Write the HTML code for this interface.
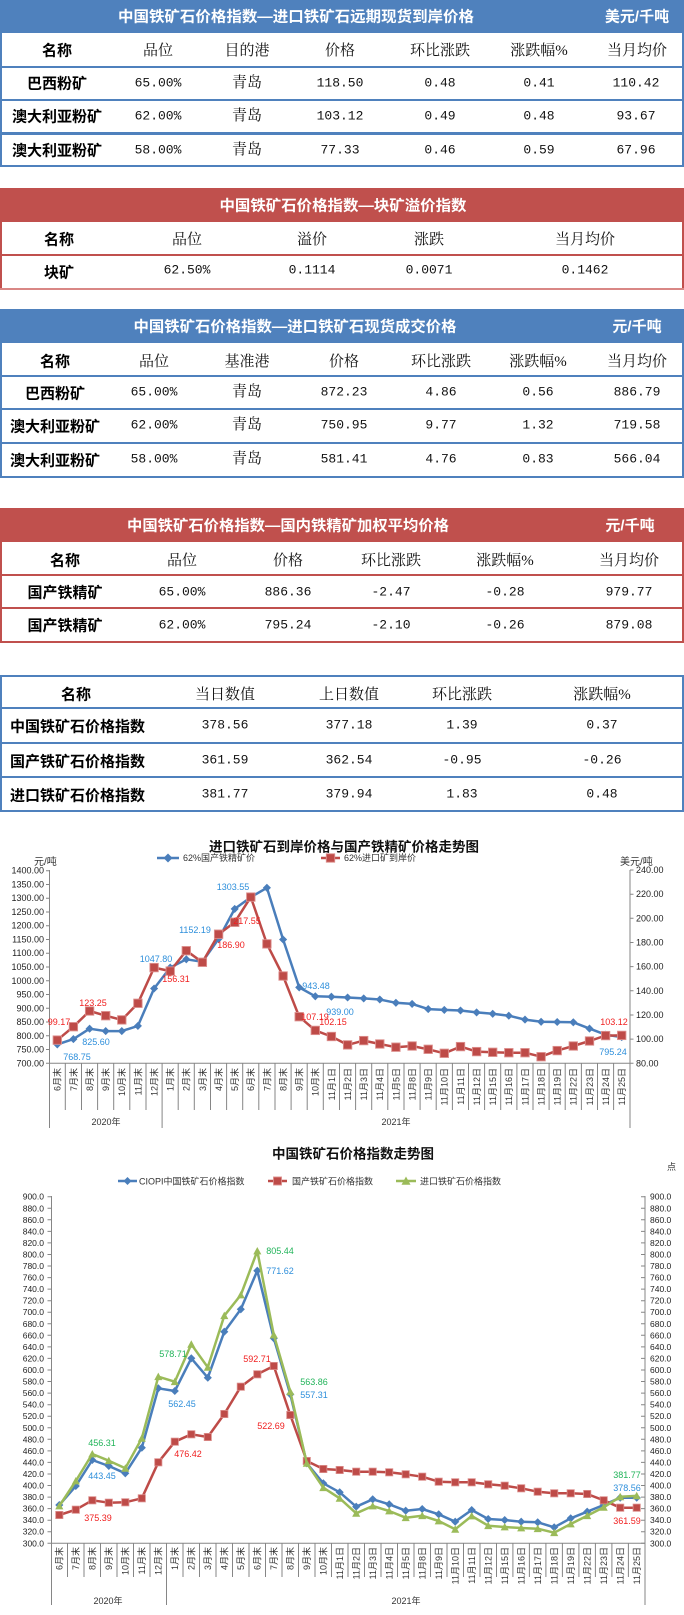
<!DOCTYPE html>
<html><head><meta charset="utf-8">
<style>
html,body{margin:0;padding:0;background:#fff;}
svg{display:block;}
.tt{fill:#fff;font-weight:700;font-size:15px;text-anchor:middle;dominant-baseline:central;font-family:"Liberation Sans","Noto Sans CJK SC",sans-serif;}
.h{font-size:15px;text-anchor:middle;dominant-baseline:central;font-family:"Liberation Serif","Noto Serif CJK SC",serif;fill:#111;}
.b{font-size:15px;font-weight:700;text-anchor:middle;dominant-baseline:central;font-family:"Liberation Sans","Noto Sans CJK SC",sans-serif;fill:#000;}
.bl{font-size:15px;font-weight:700;dominant-baseline:central;font-family:"Liberation Sans","Noto Sans CJK SC",sans-serif;fill:#000;}
.n{font-size:13px;text-anchor:middle;dominant-baseline:central;font-family:"Liberation Mono",monospace;fill:#111;}
.c{font-size:9px;font-family:"Liberation Sans","Noto Sans CJK SC",sans-serif;fill:#333;}
.ax{font-size:9px;font-family:"Liberation Sans",sans-serif;fill:#222;dominant-baseline:central;}
.ti{font-size:13.5px;font-weight:700;text-anchor:middle;dominant-baseline:central;font-family:"Liberation Sans","Noto Sans CJK SC",sans-serif;fill:#111;}
.lb{font-size:9px;text-anchor:middle;dominant-baseline:central;font-family:"Liberation Sans",sans-serif;}
.cat text{text-anchor:end;dominant-baseline:auto;}
</style></head>
<body>
<svg width="684" height="1615" viewBox="0 0 684 1615" xmlns="http://www.w3.org/2000/svg">
<defs>
<marker id="dia" viewBox="-5 -5 10 10" refX="0" refY="0" markerWidth="9" markerHeight="9" markerUnits="userSpaceOnUse"><path d="M0,-4.5L4.5,0L0,4.5L-4.5,0Z" fill="#4A7EBB"/></marker>
<marker id="sq" viewBox="-5 -5 10 10" refX="0" refY="0" markerWidth="10" markerHeight="10" markerUnits="userSpaceOnUse"><rect x="-4.2" y="-4.2" width="8.4" height="8.4" fill="#BE4B48" stroke="#DC8E8C" stroke-width="0.9"/></marker>
<marker id="sq2" viewBox="-5 -5 10 10" refX="0" refY="0" markerWidth="9" markerHeight="9" markerUnits="userSpaceOnUse"><rect x="-4" y="-4" width="8" height="8" fill="#BE4B48" stroke="#DC8E8C" stroke-width="0.9"/></marker>
<marker id="tri" viewBox="-5 -5 10 10" refX="0" refY="0" markerWidth="9" markerHeight="9" markerUnits="userSpaceOnUse"><path d="M0,-4.5L4.5,3.8L-4.5,3.8Z" fill="#9BBB59"/></marker>
</defs>

<!-- ===== TABLE 1 ===== -->
<rect x="0" y="0" width="684" height="33" fill="#4F81BD"/>
<text class="tt" x="296" y="17" textLength="356" lengthAdjust="spacingAndGlyphs">中国铁矿石价格指数—进口铁矿石远期现货到岸价格</text>
<text class="tt" x="637" y="17">美元/千吨</text>
<rect x="0" y="33" width="2" height="134" fill="#4F81BD"/>
<rect x="682" y="33" width="2" height="134" fill="#4F81BD"/>
<rect x="0" y="66" width="684" height="2" fill="#4F81BD"/>
<rect x="0" y="99" width="684" height="2" fill="#4F81BD"/>
<rect x="0" y="132" width="684" height="3" fill="#4F81BD"/>
<rect x="0" y="165" width="684" height="2" fill="#4F81BD"/>
<text class="b" x="57" y="51">名称</text>
<text class="h" x="158" y="51">品位</text>
<text class="h" x="247" y="51">目的港</text>
<text class="h" x="340" y="51">价格</text>
<text class="h" x="440" y="51">环比涨跌</text>
<text class="h" x="539" y="51">涨跌幅%</text>
<text class="h" x="637" y="51">当月均价</text>
<text class="b" x="57" y="84">巴西粉矿</text>
<text class="n" x="158" y="83">65.00%</text><text class="h" x="247" y="83">青岛</text><text class="n" x="340" y="83">118.50</text><text class="n" x="440" y="83">0.48</text><text class="n" x="539" y="83">0.41</text><text class="n" x="636" y="83">110.42</text>
<text class="b" x="57" y="117">澳大利亚粉矿</text>
<text class="n" x="158" y="116">62.00%</text><text class="h" x="247" y="116">青岛</text><text class="n" x="340" y="116">103.12</text><text class="n" x="440" y="116">0.49</text><text class="n" x="539" y="116">0.48</text><text class="n" x="636" y="116">93.67</text>
<text class="b" x="57" y="151">澳大利亚粉矿</text>
<text class="n" x="158" y="150">58.00%</text><text class="h" x="247" y="150">青岛</text><text class="n" x="340" y="150">77.33</text><text class="n" x="440" y="150">0.46</text><text class="n" x="539" y="150">0.59</text><text class="n" x="636" y="150">67.96</text>

<!-- ===== TABLE 2 ===== -->
<rect x="0" y="188" width="684" height="34" fill="#C0504D"/>
<text class="tt" x="343" y="206" textLength="247" lengthAdjust="spacingAndGlyphs">中国铁矿石价格指数—块矿溢价指数</text>
<rect x="0" y="222" width="2" height="68" fill="#C0504D"/>
<rect x="682" y="222" width="2" height="68" fill="#C0504D"/>
<rect x="0" y="254" width="684" height="2" fill="#C0504D"/>
<rect x="0" y="288" width="684" height="2" fill="#D98785"/>
<text class="b" x="59" y="240">名称</text>
<text class="h" x="187" y="240">品位</text>
<text class="h" x="312" y="240">溢价</text>
<text class="h" x="429" y="240">涨跌</text>
<text class="h" x="585" y="240">当月均价</text>
<text class="b" x="59" y="273">块矿</text>
<text class="n" x="187" y="270">62.50%</text><text class="n" x="312" y="270">0.1114</text><text class="n" x="429" y="270">0.0071</text><text class="n" x="585" y="270">0.1462</text>

<!-- ===== TABLE 3 ===== -->
<rect x="0" y="309" width="684" height="34" fill="#4F81BD"/>
<text class="tt" x="295" y="327" textLength="323" lengthAdjust="spacingAndGlyphs">中国铁矿石价格指数—进口铁矿石现货成交价格</text>
<text class="tt" x="637" y="327">元/千吨</text>
<rect x="0" y="343" width="2" height="135" fill="#4F81BD"/>
<rect x="682" y="343" width="2" height="135" fill="#4F81BD"/>
<rect x="0" y="375" width="684" height="2" fill="#4F81BD"/>
<rect x="0" y="408" width="684" height="2" fill="#4F81BD"/>
<rect x="0" y="442" width="684" height="2" fill="#4F81BD"/>
<rect x="0" y="476" width="684" height="2" fill="#4F81BD"/>
<text class="b" x="55" y="362">名称</text>
<text class="h" x="154" y="362">品位</text>
<text class="h" x="247" y="362">基准港</text>
<text class="h" x="344" y="362">价格</text>
<text class="h" x="441" y="362">环比涨跌</text>
<text class="h" x="538" y="362">涨跌幅%</text>
<text class="h" x="637" y="362">当月均价</text>
<text class="b" x="55" y="394">巴西粉矿</text>
<text class="n" x="154" y="392">65.00%</text><text class="h" x="247" y="392">青岛</text><text class="n" x="344" y="392">872.23</text><text class="n" x="441" y="392">4.86</text><text class="n" x="538" y="392">0.56</text><text class="n" x="637" y="392">886.79</text>
<text class="b" x="55" y="427">澳大利亚粉矿</text>
<text class="n" x="154" y="425">62.00%</text><text class="h" x="247" y="425">青岛</text><text class="n" x="344" y="425">750.95</text><text class="n" x="441" y="425">9.77</text><text class="n" x="538" y="425">1.32</text><text class="n" x="637" y="425">719.58</text>
<text class="b" x="55" y="461">澳大利亚粉矿</text>
<text class="n" x="154" y="459">58.00%</text><text class="h" x="247" y="459">青岛</text><text class="n" x="344" y="459">581.41</text><text class="n" x="441" y="459">4.76</text><text class="n" x="538" y="459">0.83</text><text class="n" x="637" y="459">566.04</text>

<!-- ===== TABLE 4 ===== -->
<rect x="0" y="508" width="684" height="34" fill="#C0504D"/>
<text class="tt" x="288" y="526" textLength="322" lengthAdjust="spacingAndGlyphs">中国铁矿石价格指数—国内铁精矿加权平均价格</text>
<text class="tt" x="630" y="526">元/千吨</text>
<rect x="0" y="542" width="2" height="101" fill="#C0504D"/>
<rect x="682" y="542" width="2" height="101" fill="#C0504D"/>
<rect x="0" y="574" width="684" height="2" fill="#C0504D"/>
<rect x="0" y="607" width="684" height="2" fill="#C0504D"/>
<rect x="0" y="641" width="684" height="2" fill="#C0504D"/>
<text class="b" x="65" y="561">名称</text>
<text class="h" x="182" y="561">品位</text>
<text class="h" x="288" y="561">价格</text>
<text class="h" x="391" y="561">环比涨跌</text>
<text class="h" x="505" y="561">涨跌幅%</text>
<text class="h" x="629" y="561">当月均价</text>
<text class="b" x="65" y="593">国产铁精矿</text>
<text class="n" x="182" y="592">65.00%</text><text class="n" x="288" y="592">886.36</text><text class="n" x="391" y="592">-2.47</text><text class="n" x="505" y="592">-0.28</text><text class="n" x="629" y="592">979.77</text>
<text class="b" x="65" y="626">国产铁精矿</text>
<text class="n" x="182" y="625">62.00%</text><text class="n" x="288" y="625">795.24</text><text class="n" x="391" y="625">-2.10</text><text class="n" x="505" y="625">-0.26</text><text class="n" x="629" y="625">879.08</text>

<!-- ===== TABLE 5 ===== -->
<rect x="0" y="675" width="684" height="2" fill="#4F81BD"/>
<rect x="0" y="675" width="2" height="137" fill="#4F81BD"/>
<rect x="682" y="675" width="2" height="137" fill="#4F81BD"/>
<rect x="0" y="707" width="684" height="2" fill="#4F81BD"/>
<rect x="0" y="742" width="684" height="2" fill="#4F81BD"/>
<rect x="0" y="776" width="684" height="2" fill="#4F81BD"/>
<rect x="0" y="810" width="684" height="2" fill="#4F81BD"/>
<text class="b" x="76" y="695">名称</text>
<text class="h" x="225" y="695">当日数值</text>
<text class="h" x="349" y="695">上日数值</text>
<text class="h" x="462" y="695">环比涨跌</text>
<text class="h" x="602" y="695">涨跌幅%</text>
<text class="bl" x="10" y="727">中国铁矿石价格指数</text>
<text class="n" x="225" y="725">378.56</text><text class="n" x="349" y="725">377.18</text><text class="n" x="462" y="725">1.39</text><text class="n" x="602" y="725">0.37</text>
<text class="bl" x="10" y="762">国产铁矿石价格指数</text>
<text class="n" x="225" y="760">361.59</text><text class="n" x="349" y="760">362.54</text><text class="n" x="462" y="760">-0.95</text><text class="n" x="602" y="760">-0.26</text>
<text class="bl" x="10" y="796">进口铁矿石价格指数</text>
<text class="n" x="225" y="794">381.77</text><text class="n" x="349" y="794">379.94</text><text class="n" x="462" y="794">1.83</text><text class="n" x="602" y="794">0.48</text>

<!-- ===== CHART 1 ===== -->
<text class="ti" x="344" y="847">进口铁矿石到岸价格与国产铁精矿价格走势图</text>
<line x1="157" y1="858" x2="179" y2="858" stroke="#4A7EBB" stroke-width="2.5"/>
<path d="M168,853.5L172.5,858L168,862.5L163.5,858Z" fill="#4A7EBB"/>
<text class="c" x="183" y="861">62%国产铁精矿价</text>
<line x1="321" y1="858" x2="340" y2="858" stroke="#BE4B48" stroke-width="2.5"/>
<rect x="326.3" y="853.8" width="8.4" height="8.4" fill="#BE4B48" stroke="#DC8E8C" stroke-width="0.9"/>
<text class="c" x="344" y="861">62%进口矿到岸价</text>
<text class="c" x="34" y="865" style="font-size:10px">元/吨</text>
<text class="c" x="620" y="865" style="font-size:10px">美元/吨</text>

<!-- axes -->
<g stroke="#868686" stroke-width="1" fill="none">
<line x1="49.5" y1="870" x2="49.5" y2="1128"/>
<line x1="630" y1="870" x2="630" y2="1128"/>
<line x1="49.5" y1="1063.3" x2="630" y2="1063.3"/>
<line x1="162.1" y1="1063" x2="162.1" y2="1128"/>
<path d="M46,870.7H49.5M46,884.5H49.5M46,898.2H49.5M46,912H49.5M46,925.7H49.5M46,939.5H49.5M46,953.2H49.5M46,967H49.5M46,980.8H49.5M46,994.5H49.5M46,1008.3H49.5M46,1022H49.5M46,1035.8H49.5M46,1049.5H49.5M46,1063.3H49.5"/>
<path d="M630,870H633.5M630,894.2H633.5M630,918.3H633.5M630,942.5H633.5M630,966.6H633.5M630,990.8H633.5M630,1015H633.5M630,1039.1H633.5M630,1063.3H633.5"/>
<path d="M65.3,1063V1110M81.5,1063V1110M97.6,1063V1110M113.7,1063V1110M129.8,1063V1110M146,1063V1110M178.2,1063V1110M194.3,1063V1110M210.5,1063V1110M226.6,1063V1110M242.7,1063V1110M258.8,1063V1110M275,1063V1110M291.1,1063V1110M307.2,1063V1110M323.3,1063V1110M339.5,1063V1110M355.6,1063V1110M371.7,1063V1110M387.8,1063V1110M404,1063V1110M420.1,1063V1110M436.2,1063V1110M452.4,1063V1110M468.5,1063V1110M484.6,1063V1110M500.7,1063V1110M516.9,1063V1110M533,1063V1110M549.1,1063V1110M565.2,1063V1110M581.4,1063V1110M597.5,1063V1110M613.6,1063V1110"/>
</g>
<g class="ax" text-anchor="end">
<text x="44" y="870.7">1400.00</text><text x="44" y="884.5">1350.00</text><text x="44" y="898.2">1300.00</text><text x="44" y="912">1250.00</text><text x="44" y="925.7">1200.00</text><text x="44" y="939.5">1150.00</text><text x="44" y="953.2">1100.00</text><text x="44" y="967">1050.00</text><text x="44" y="980.8">1000.00</text><text x="44" y="994.5">950.00</text><text x="44" y="1008.3">900.00</text><text x="44" y="1022">850.00</text><text x="44" y="1035.8">800.00</text><text x="44" y="1049.5">750.00</text><text x="44" y="1063.3">700.00</text>
</g>
<g class="ax" text-anchor="start">
<text x="636" y="870">240.00</text><text x="636" y="894.2">220.00</text><text x="636" y="918.3">200.00</text><text x="636" y="942.5">180.00</text><text x="636" y="966.6">160.00</text><text x="636" y="990.8">140.00</text><text x="636" y="1015">120.00</text><text x="636" y="1039.1">100.00</text><text x="636" y="1063.3">80.00</text>
</g>
<g class="c cat">
<text transform="translate(60.7,1068) rotate(-90)">6月末</text>
<text transform="translate(76.8,1068) rotate(-90)">7月末</text>
<text transform="translate(93,1068) rotate(-90)">8月末</text>
<text transform="translate(109.1,1068) rotate(-90)">9月末</text>
<text transform="translate(125.2,1068) rotate(-90)">10月末</text>
<text transform="translate(141.3,1068) rotate(-90)">11月末</text>
<text transform="translate(157.5,1068) rotate(-90)">12月末</text>
<text transform="translate(173.6,1068) rotate(-90)">1月末</text>
<text transform="translate(189.7,1068) rotate(-90)">2月末</text>
<text transform="translate(205.8,1068) rotate(-90)">3月末</text>
<text transform="translate(222,1068) rotate(-90)">4月末</text>
<text transform="translate(238.1,1068) rotate(-90)">5月末</text>
<text transform="translate(254.2,1068) rotate(-90)">6月末</text>
<text transform="translate(270.3,1068) rotate(-90)">7月末</text>
<text transform="translate(286.5,1068) rotate(-90)">8月末</text>
<text transform="translate(302.6,1068) rotate(-90)">9月末</text>
<text transform="translate(318.7,1068) rotate(-90)">10月末</text>
<text transform="translate(334.8,1068) rotate(-90)">11月1日</text>
<text transform="translate(351,1068) rotate(-90)">11月2日</text>
<text transform="translate(367.1,1068) rotate(-90)">11月3日</text>
<text transform="translate(383.2,1068) rotate(-90)">11月4日</text>
<text transform="translate(399.3,1068) rotate(-90)">11月5日</text>
<text transform="translate(415.5,1068) rotate(-90)">11月8日</text>
<text transform="translate(431.6,1068) rotate(-90)">11月9日</text>
<text transform="translate(447.7,1068) rotate(-90)">11月10日</text>
<text transform="translate(463.9,1068) rotate(-90)">11月11日</text>
<text transform="translate(480,1068) rotate(-90)">11月12日</text>
<text transform="translate(496.1,1068) rotate(-90)">11月15日</text>
<text transform="translate(512.2,1068) rotate(-90)">11月16日</text>
<text transform="translate(528.4,1068) rotate(-90)">11月17日</text>
<text transform="translate(544.5,1068) rotate(-90)">11月18日</text>
<text transform="translate(560.6,1068) rotate(-90)">11月19日</text>
<text transform="translate(576.7,1068) rotate(-90)">11月22日</text>
<text transform="translate(592.9,1068) rotate(-90)">11月23日</text>
<text transform="translate(609,1068) rotate(-90)">11月24日</text>
<text transform="translate(625.1,1068) rotate(-90)">11月25日</text>
</g>
<text class="c" x="106" y="1125" text-anchor="middle">2020年</text>
<text class="c" x="396" y="1125" text-anchor="middle">2021年</text>

<polyline fill="none" stroke="#4A7EBB" stroke-width="2.5" stroke-linejoin="round" marker-start="url(#dia)" marker-mid="url(#dia)" marker-end="url(#dia)" points="57.3,1044.4 73.4,1039.1 89.6,1028.7 105.7,1031.1 121.8,1031.1 137.9,1025.9 154.1,988.5 170.2,967.6 186.3,959.3 202.4,961.8 218.6,938.9 234.7,908.9 250.8,897.2 266.9,887.8 283.1,939.5 299.2,987.4 315.3,996.3 331.4,996.7 347.6,997.5 363.7,998.4 379.8,999.5 395.9,1002.8 412.1,1003.9 428.2,1009.1 444.3,1009.9 460.5,1010.5 476.6,1012.4 492.7,1013.8 508.8,1015.7 525,1019.6 541.1,1021.8 557.2,1022 573.3,1022.3 589.5,1028.6 605.6,1034.7 621.7,1037.1"/>
<polyline fill="none" stroke="#BE4B48" stroke-width="2.5" stroke-linejoin="round" marker-start="url(#sq)" marker-mid="url(#sq)" marker-end="url(#sq)" points="57.3,1040.1 73.4,1026.7 89.6,1011 105.7,1015.7 121.8,1019.9 137.9,1003.3 154.1,967.6 170.2,971.1 186.3,950.7 202.4,962.3 218.6,934.2 234.7,922.3 250.8,897.1 266.9,943.9 283.1,976 299.2,1016.7 315.3,1030.4 331.4,1036.5 347.6,1044.9 363.7,1040.6 379.8,1044 395.9,1047.2 412.1,1046 428.2,1049.3 444.3,1053.3 460.5,1046.6 476.6,1051.6 492.7,1052.3 508.8,1052.7 525,1052.7 541.1,1056.7 557.2,1050.6 573.3,1046 589.5,1041 605.6,1035.6 621.7,1035.4"/>

<g class="lb" fill="#2E8FDB">
<text x="77" y="1057">768.75</text><text x="96" y="1042">825.60</text><text x="156" y="959">1047.80</text><text x="195" y="930">1152.19</text><text x="233" y="887">1303.55</text><text x="316" y="986">943.48</text><text x="340" y="1012">939.00</text><text x="613" y="1052">795.24</text>
</g>
<g class="lb" fill="#F02020">
<text x="59" y="1022">99.17</text><text x="93" y="1003">123.25</text><text x="176" y="979">156.31</text><text x="231" y="945">186.90</text><text x="247" y="921">217.55</text><text x="315" y="1017">107.19</text><text x="333" y="1022">102.15</text><text x="614" y="1022">103.12</text>
</g>

<!-- ===== CHART 2 ===== -->
<text class="ti" x="353" y="1154">中国铁矿石价格指数走势图</text>
<text class="c" x="667" y="1170">点</text>
<line x1="118" y1="1181" x2="137" y2="1181" stroke="#4A7EBB" stroke-width="2.5"/>
<path d="M127.5,1177L131.5,1181L127.5,1185L123.5,1181Z" fill="#4A7EBB"/>
<text class="c" x="139" y="1184.5">CIOPI中国铁矿石价格指数</text>
<line x1="268" y1="1181" x2="287" y2="1181" stroke="#BE4B48" stroke-width="2.5"/>
<rect x="273.5" y="1177" width="8" height="8" fill="#BE4B48" stroke="#DC8E8C" stroke-width="0.9"/>
<text class="c" x="292" y="1184.5">国产铁矿石价格指数</text>
<line x1="396" y1="1181" x2="416" y2="1181" stroke="#9BBB59" stroke-width="2.5"/>
<path d="M406,1176.5L410.5,1184.8L401.5,1184.8Z" fill="#9BBB59"/>
<text class="c" x="420" y="1184.5">进口铁矿石价格指数</text>

<g stroke="#868686" stroke-width="1" fill="none">
<line x1="51.5" y1="1196" x2="51.5" y2="1605"/>
<line x1="645" y1="1196" x2="645" y2="1605"/>
<line x1="51.5" y1="1543.3" x2="645" y2="1543.3"/>
<line x1="166.5" y1="1543" x2="166.5" y2="1605"/>
<path d="M47.5,1196.7H51.5M47.5,1208.3H51.5M47.5,1219.8H51.5M47.5,1231.4H51.5M47.5,1242.9H51.5M47.5,1254.5H51.5M47.5,1266H51.5M47.5,1277.6H51.5M47.5,1289.1H51.5M47.5,1300.7H51.5M47.5,1312.2H51.5M47.5,1323.8H51.5M47.5,1335.3H51.5M47.5,1346.9H51.5M47.5,1358.4H51.5M47.5,1370H51.5M47.5,1381.5H51.5M47.5,1393.1H51.5M47.5,1404.7H51.5M47.5,1416.2H51.5M47.5,1427.8H51.5M47.5,1439.3H51.5M47.5,1450.9H51.5M47.5,1462.4H51.5M47.5,1474H51.5M47.5,1485.5H51.5M47.5,1497.1H51.5M47.5,1508.6H51.5M47.5,1520.2H51.5M47.5,1531.7H51.5M47.5,1543.3H51.5"/>
<path d="M641,1196.7H645M641,1208.3H645M641,1219.8H645M641,1231.4H645M641,1242.9H645M641,1254.5H645M641,1266H645M641,1277.6H645M641,1289.1H645M641,1300.7H645M641,1312.2H645M641,1323.8H645M641,1335.3H645M641,1346.9H645M641,1358.4H645M641,1370H645M641,1381.5H645M641,1393.1H645M641,1404.7H645M641,1416.2H645M641,1427.8H645M641,1439.3H645M641,1450.9H645M641,1462.4H645M641,1474H645M641,1485.5H645M641,1497.1H645M641,1508.6H645M641,1520.2H645M641,1531.7H645M641,1543.3H645"/>
<path d="M67.5,1543V1577M84,1543V1577M100.5,1543V1577M117,1543V1577M133.5,1543V1577M150,1543V1577M183,1543V1577M199.5,1543V1577M216,1543V1577M232.5,1543V1577M249,1543V1577M265.5,1543V1577M282,1543V1577M298.5,1543V1577M315,1543V1577M331.5,1543V1577M348,1543V1577M364.5,1543V1577M381,1543V1577M397.5,1543V1577M414,1543V1577M430.5,1543V1577M447,1543V1577M463.5,1543V1577M480,1543V1577M496.5,1543V1577M512.9,1543V1577M529.4,1543V1577M545.9,1543V1577M562.4,1543V1577M578.9,1543V1577M595.4,1543V1577M611.9,1543V1577M628.4,1543V1577"/>
</g>
<g class="ax" text-anchor="end" style="font-size:8.5px">
<text x="44" y="1196.7">900.0</text><text x="44" y="1208.3">880.0</text><text x="44" y="1219.8">860.0</text><text x="44" y="1231.4">840.0</text><text x="44" y="1242.9">820.0</text><text x="44" y="1254.5">800.0</text><text x="44" y="1266">780.0</text><text x="44" y="1277.6">760.0</text><text x="44" y="1289.1">740.0</text><text x="44" y="1300.7">720.0</text><text x="44" y="1312.2">700.0</text><text x="44" y="1323.8">680.0</text><text x="44" y="1335.3">660.0</text><text x="44" y="1346.9">640.0</text><text x="44" y="1358.4">620.0</text><text x="44" y="1370">600.0</text><text x="44" y="1381.5">580.0</text><text x="44" y="1393.1">560.0</text><text x="44" y="1404.7">540.0</text><text x="44" y="1416.2">520.0</text><text x="44" y="1427.8">500.0</text><text x="44" y="1439.3">480.0</text><text x="44" y="1450.9">460.0</text><text x="44" y="1462.4">440.0</text><text x="44" y="1474">420.0</text><text x="44" y="1485.5">400.0</text><text x="44" y="1497.1">380.0</text><text x="44" y="1508.6">360.0</text><text x="44" y="1520.2">340.0</text><text x="44" y="1531.7">320.0</text><text x="44" y="1543.3">300.0</text>
</g>
<g class="ax" text-anchor="start" style="font-size:8.5px">
<text x="650" y="1196.7">900.0</text><text x="650" y="1208.3">880.0</text><text x="650" y="1219.8">860.0</text><text x="650" y="1231.4">840.0</text><text x="650" y="1242.9">820.0</text><text x="650" y="1254.5">800.0</text><text x="650" y="1266">780.0</text><text x="650" y="1277.6">760.0</text><text x="650" y="1289.1">740.0</text><text x="650" y="1300.7">720.0</text><text x="650" y="1312.2">700.0</text><text x="650" y="1323.8">680.0</text><text x="650" y="1335.3">660.0</text><text x="650" y="1346.9">640.0</text><text x="650" y="1358.4">620.0</text><text x="650" y="1370">600.0</text><text x="650" y="1381.5">580.0</text><text x="650" y="1393.1">560.0</text><text x="650" y="1404.7">540.0</text><text x="650" y="1416.2">520.0</text><text x="650" y="1427.8">500.0</text><text x="650" y="1439.3">480.0</text><text x="650" y="1450.9">460.0</text><text x="650" y="1462.4">440.0</text><text x="650" y="1474">420.0</text><text x="650" y="1485.5">400.0</text><text x="650" y="1497.1">380.0</text><text x="650" y="1508.6">360.0</text><text x="650" y="1520.2">340.0</text><text x="650" y="1531.7">320.0</text><text x="650" y="1543.3">300.0</text>
</g>
<g class="c cat">
<text transform="translate(62.7,1547) rotate(-90)">6月末</text>
<text transform="translate(79.2,1547) rotate(-90)">7月末</text>
<text transform="translate(95.7,1547) rotate(-90)">8月末</text>
<text transform="translate(112.2,1547) rotate(-90)">9月末</text>
<text transform="translate(128.7,1547) rotate(-90)">10月末</text>
<text transform="translate(145.2,1547) rotate(-90)">11月末</text>
<text transform="translate(161.7,1547) rotate(-90)">12月末</text>
<text transform="translate(178.2,1547) rotate(-90)">1月末</text>
<text transform="translate(194.7,1547) rotate(-90)">2月末</text>
<text transform="translate(211.2,1547) rotate(-90)">3月末</text>
<text transform="translate(227.7,1547) rotate(-90)">4月末</text>
<text transform="translate(244.2,1547) rotate(-90)">5月末</text>
<text transform="translate(260.7,1547) rotate(-90)">6月末</text>
<text transform="translate(277.2,1547) rotate(-90)">7月末</text>
<text transform="translate(293.7,1547) rotate(-90)">8月末</text>
<text transform="translate(310.2,1547) rotate(-90)">9月末</text>
<text transform="translate(326.7,1547) rotate(-90)">10月末</text>
<text transform="translate(343.1,1547) rotate(-90)">11月1日</text>
<text transform="translate(359.6,1547) rotate(-90)">11月2日</text>
<text transform="translate(376.1,1547) rotate(-90)">11月3日</text>
<text transform="translate(392.6,1547) rotate(-90)">11月4日</text>
<text transform="translate(409.1,1547) rotate(-90)">11月5日</text>
<text transform="translate(425.6,1547) rotate(-90)">11月8日</text>
<text transform="translate(442.1,1547) rotate(-90)">11月9日</text>
<text transform="translate(458.6,1547) rotate(-90)">11月10日</text>
<text transform="translate(475.1,1547) rotate(-90)">11月11日</text>
<text transform="translate(491.6,1547) rotate(-90)">11月12日</text>
<text transform="translate(508.1,1547) rotate(-90)">11月15日</text>
<text transform="translate(524.6,1547) rotate(-90)">11月16日</text>
<text transform="translate(541.1,1547) rotate(-90)">11月17日</text>
<text transform="translate(557.6,1547) rotate(-90)">11月18日</text>
<text transform="translate(574.1,1547) rotate(-90)">11月19日</text>
<text transform="translate(590.6,1547) rotate(-90)">11月22日</text>
<text transform="translate(607.1,1547) rotate(-90)">11月23日</text>
<text transform="translate(623.6,1547) rotate(-90)">11月24日</text>
<text transform="translate(640.1,1547) rotate(-90)">11月25日</text>
</g>
<text class="c" x="108" y="1604" text-anchor="middle">2020年</text>
<text class="c" x="406" y="1604" text-anchor="middle">2021年</text>

<polyline fill="none" stroke="#4A7EBB" stroke-width="2.5" stroke-linejoin="round" marker-start="url(#dia)" marker-mid="url(#dia)" marker-end="url(#dia)" points="59.3,1505 75.8,1486 92.3,1460 108.8,1466 125.3,1473.3 141.8,1447.7 158.3,1388.3 174.8,1391 191.3,1358.3 207.8,1377.7 224.3,1331.7 240.8,1309.3 257.3,1270.7 273.8,1338.3 290.3,1394.3 306.8,1463.3 323.3,1483.3 339.7,1492.3 356.2,1506.7 372.7,1499.3 389.2,1504.3 405.7,1510.7 422.2,1509 438.7,1514.3 455.2,1521.7 471.7,1510 488.2,1519 504.7,1520 521.2,1521.7 537.7,1522.3 554.2,1527.3 570.7,1518.3 587.2,1511.7 603.7,1505 620.2,1497.7 636.7,1497.7"/>
<polyline fill="none" stroke="#BE4B48" stroke-width="2.5" stroke-linejoin="round" marker-start="url(#sq2)" marker-mid="url(#sq2)" marker-end="url(#sq2)" points="59.3,1515 75.8,1509.7 92.3,1500.3 108.8,1502.7 125.3,1502.3 141.8,1498.3 158.3,1462.3 174.8,1441.7 191.3,1434.3 207.8,1437 224.3,1414 240.8,1386.7 257.3,1374.3 273.8,1366 290.3,1415 306.8,1461 323.3,1469 339.7,1470 356.2,1471.7 372.7,1471.7 389.2,1472.3 405.7,1474.3 422.2,1476.7 438.7,1481.7 455.2,1482.3 471.7,1482.3 488.2,1484.3 504.7,1485.7 521.2,1488.3 537.7,1491.7 554.2,1493.3 570.7,1493.3 587.2,1494 603.7,1500.3 620.2,1507.7 636.7,1507.7"/>
<polyline fill="none" stroke="#9BBB59" stroke-width="2.5" stroke-linejoin="round" marker-start="url(#tri)" marker-mid="url(#tri)" marker-end="url(#tri)" points="59.3,1506 75.8,1481 92.3,1454 108.8,1460.7 125.3,1468.3 141.8,1438.3 158.3,1376.7 174.8,1381.7 191.3,1344.3 207.8,1367.3 224.3,1315.7 240.8,1295 257.3,1251 273.8,1335 290.3,1391.7 306.8,1463.3 323.3,1487.7 339.7,1498.3 356.2,1513.3 372.7,1506 389.2,1511 405.7,1517.7 422.2,1515.7 438.7,1521 455.2,1529.3 471.7,1516 488.2,1525.7 504.7,1527 521.2,1528 537.7,1528.7 554.2,1532.7 570.7,1524 587.2,1515.7 603.7,1507.3 620.2,1496.8 636.7,1495.8"/>

<g class="lb" fill="#22B45A">
<text x="280" y="1251">805.44</text><text x="173" y="1354">578.71</text><text x="314" y="1382">563.86</text><text x="102" y="1443">456.31</text><text x="627" y="1475">381.77</text>
</g>
<g class="lb" fill="#2E8FDB">
<text x="280" y="1271">771.62</text><text x="314" y="1395">557.31</text><text x="182" y="1404">562.45</text><text x="102" y="1476">443.45</text><text x="627" y="1488">378.56</text>
</g>
<g class="lb" fill="#F02020">
<text x="257" y="1359">592.71</text><text x="271" y="1426">522.69</text><text x="188" y="1454">476.42</text><text x="98" y="1518">375.39</text><text x="627" y="1521">361.59</text>
</g>
</svg>
</body></html>
